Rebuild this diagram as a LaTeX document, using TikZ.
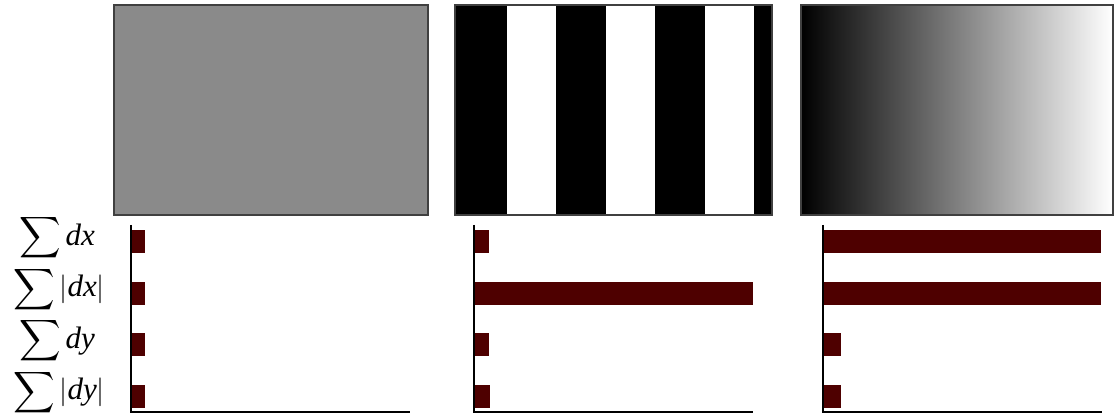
\documentclass[tikz,border=0pt]{standalone}
\usepackage{fontspec}
\setmainfont{Liberation Serif}
\usepackage{amsmath}
\usepackage{xcolor}
\usetikzlibrary{positioning}
\definecolor{barC}{RGB}{78, 0, 0}
\definecolor{panelG}{RGB}{138, 138, 138}

\begin{document}
\begin{tikzpicture}[x=0.5pt, y=-0.5pt,
    frame/.style={draw=black!75, line width=0.6pt},
    axisline/.style={black, line width=1.1pt},
    bar/.style={fill=barC},
    sumlabel/.style={font=\fontsize{15.5}{17}\selectfont, inner sep=0pt}]
        % Pixel grid of the reference: 1115 x 416, y runs downward.
        % Panels top 5, bottom 215; bar rows centred on 242 + 51.5 i.
        \useasboundingbox (0, 0) rectangle (1115, 416);

        % ── Flat gray panel ─────────────────────────────────────────────
        \fill[panelG] (114, 5) rectangle (428, 215);
        \draw[frame] (114, 5) rectangle (428, 215);

        % ── Stripe panel ────────────────────────────────────────────────
        \fill[white] (455, 5) rectangle (772, 215);
        \foreach \xa/\xb in {455/507, 556/606, 655/705, 754/772}
            \fill[black] (\xa, 5) rectangle (\xb, 215);
        \draw[frame] (455, 5) rectangle (772, 215);

        % ── Gradient panel ──────────────────────────────────────────────
        \shade[left color=black, right color=white] (801, 5) rectangle (1113, 215);
        \draw[frame] (801, 5) rectangle (1113, 215);

        % ── Row labels ──────────────────────────────────────────────────
        \node[sumlabel] (lab-dx)  at (57, 238)   {$\displaystyle\sum \textit{dx}$};
        \node[sumlabel] (lab-adx) at (59, 289.5) {$\displaystyle\sum |\textit{dx}|$};
        \node[sumlabel] (lab-dy)  at (57, 341)   {$\displaystyle\sum \textit{dy}$};
        \node[sumlabel] (lab-ady) at (59, 392.5) {$\displaystyle\sum |\textit{dy}|$};

        % ── Bar charts: axis x / axis end / four bar ends ───────────────
        \foreach \ax/\xe/\ba/\bb/\bc/\bd in {131/410/145/145/145/145,
                                            474/753/489/753/489/490,
                                            823/1102/1101/1101/841/841}
        {
            \foreach \b [count=\i from 0] in {\ba, \bb, \bc, \bd}
                \fill[bar] (\ax, 242 + 51.5*\i - 11.5) rectangle (\b, 242 + 51.5*\i + 11.5);
            \draw[axisline] (\ax, 225) -- (\ax, 412) -- (\xe, 412);
        }
      \end{tikzpicture}
\end{document}
